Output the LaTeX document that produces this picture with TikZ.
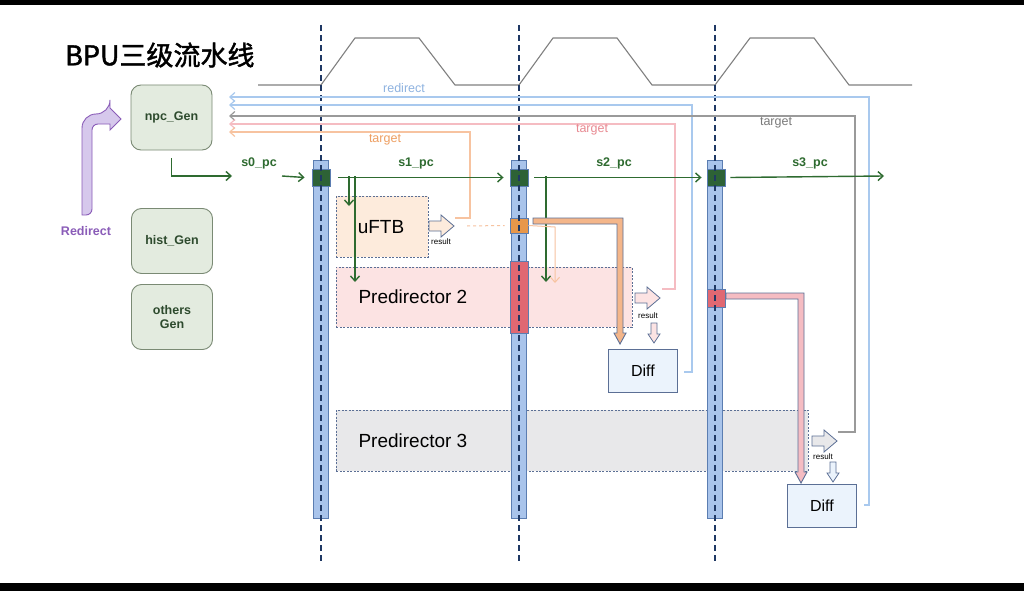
\documentclass[tikz,border=0pt]{standalone}
\usepackage{fontspec}
\setmainfont{Liberation Sans}
\newfontfamily\cjk[FakeBold=1.6]{Noto Sans CJK SC}
\usetikzlibrary{arrows.meta,calc}
\definecolor{navy}{HTML}{1F3864}
\definecolor{regblue}{HTML}{A9C4EB}
\definecolor{regedge}{HTML}{5B7DB1}
\definecolor{pcgreen}{HTML}{2E6B30}
\definecolor{gentext}{HTML}{2D4A2D}
\definecolor{gengreen}{HTML}{E3EBDF}
\definecolor{genedge}{HTML}{7A8A74}
\definecolor{fbblue}{HTML}{A9C9EE}
\definecolor{fbgray}{HTML}{9A9A9A}
\definecolor{fbpink}{HTML}{F5BCC2}
\definecolor{fborange}{HTML}{F7C3A0}
\definecolor{bigorange}{HTML}{F4B68A}
\definecolor{lblblue}{HTML}{8FB3E0}
\definecolor{lblpink}{HTML}{E88A92}
\definecolor{lblorange}{HTML}{EE9F62}
\definecolor{lblgray}{HTML}{7A7A7A}
\definecolor{uftbfill}{HTML}{FDEBDC}
\definecolor{ptwofill}{HTML}{FCE3E3}
\definecolor{pthreefill}{HTML}{E8E8EA}
\definecolor{difffill}{HTML}{EBF3FC}
\definecolor{diffedge}{HTML}{5B6F95}
\definecolor{regorange}{HTML}{E8974A}
\definecolor{regred}{HTML}{E06872}
\definecolor{regdgreen}{HTML}{2D6236}
\definecolor{redir}{HTML}{8A5CB8}
\definecolor{redirfill}{HTML}{D6C8EC}
\definecolor{clkgray}{HTML}{808080}
\newcommand\myRArrow[3]{%
  \draw[diffedge, fill=#3, line width=0.8] (#1,#2-5) -- (#1+12,#2-5) -- (#1+12,#2-11) -- (#1+25,#2) -- (#1+12,#2+11) -- (#1+12,#2+5) -- (#1,#2+5) -- cycle;}
\newcommand\myDArrow[3]{%
  \draw[diffedge, fill=#3, line width=0.8] (#1-3,#2) -- (#1+3,#2) -- (#1+3,#2+11) -- (#1+6,#2+11) -- (#1,#2+20) -- (#1-6,#2+11) -- (#1-3,#2+11) -- cycle;}
\tikzset{
  genbox/.style={draw=genedge, fill=gengreen, rounded corners=10, line width=0.9, minimum width=81, minimum height=65, text=gentext, font=\bfseries\fontsize{12.5}{15}\selectfont, align=center},
  predbox/.style={draw=diffedge, dash pattern=on 2pt off 1.5pt, line width=0.8},
  diffbox/.style={draw=diffedge, fill=difffill, line width=0.9, font=\fontsize{16}{18}\selectfont},
  regbar/.style={draw=regedge, fill=regblue, line width=0.9, minimum width=15, minimum height=358},
  regsq/.style={draw=regedge, line width=0.9, minimum width=18},
  stageline/.style={navy, line width=1.8, dash pattern=on 6pt off 4pt},
  fbline/.style={line width=1.2, -{Straight Barb[length=5pt,width=9pt]}},
  pcarrow/.style={pcgreen, line width=1.4, -{Straight Barb[length=5pt,width=9pt]}},
  pclabel/.style={text=pcgreen, font=\bfseries\fontsize{12.5}{14}\selectfont},
  fblabel/.style={font=\fontsize{12.5}{14}\selectfont},
  reslabel/.style={font=\fontsize{8}{9}\selectfont},
  bigarrow/.style={draw=diffedge, line width=0.9}
}
\begin{document}
\begin{tikzpicture}[x=1pt,y=-1pt]
\useasboundingbox (0,0) rectangle (1024,591);
\fill[white] (0,0) rectangle (1024,591);
\fill[black] (0,0) rectangle (1024,5);
\fill[black] (0,583) rectangle (1024,591);

% title
\node[font=\cjk\fontsize{27}{30}\selectfont, anchor=west, inner sep=0] (title) at (65,55) {BPU三级流水线};

% clock
\draw[clkgray, line width=1.1] (258,85) -- (321,85) -- (355,38) -- (419,38) -- (455,85) -- (519,85) -- (553,38) -- (617,38) -- (652,85) -- (715,85) -- (750,38) -- (814,38) -- (849,85) -- (912,85);

% generators
\node[genbox] (npc) at (171.5,117.5) {npc\_Gen};
\node[genbox] (hist) at (172,241) {hist\_Gen};
\node[genbox] (others) at (172,317) {others\\[-1pt]Gen};

% redirect arrow
\draw[redir, fill=redirfill, line width=0.9] (82,215) {[rounded corners=14pt] -- (82,114) -- (110,114)} -- (110,108) -- (121,119) -- (110,130) -- (110,124) {[rounded corners=6pt] -- (92,124) -- (92,215)} -- cycle;
\node[text=redir, font=\bfseries\fontsize{12.5}{14}\selectfont] (redirlbl) at (86,231) {Redirect};

% predictor boxes
\node[predbox, fill=uftbfill, minimum width=92, minimum height=61, anchor=north west] (uftb) at (336,196) {};
\node[font=\fontsize{19}{21}\selectfont] (uftbtxt) at (381,227) {uFTB};
\node[predbox, fill=ptwofill, minimum width=296, minimum height=60, anchor=north west] (ptwo) at (336,267) {};
\node[font=\fontsize{19}{21}\selectfont, anchor=west] (ptwotxt) at (355,297) {Predirector 2};
\node[predbox, fill=pthreefill, minimum width=472, minimum height=61, anchor=north west] (pthree) at (336,410) {};
\node[font=\fontsize{19}{21}\selectfont, anchor=west] (pthreetxt) at (355,441) {Predirector 3};

% diff boxes
\node[diffbox, minimum width=69, minimum height=43, anchor=north west] (diffa) at (608,349) {Diff};
\node[diffbox, minimum width=69, minimum height=43, anchor=north west] (diffb) at (787,484) {Diff};

% register bars
\node[regbar] (bara) at (321,339) {};
\node[regbar] (barb) at (519,339) {};
\node[regbar] (barc) at (715,339) {};
\node[regsq, fill=regdgreen, minimum height=17] (ga) at (321,177.5) {};
\node[regsq, fill=regdgreen, minimum height=17] (gb) at (519,177.5) {};
\node[regsq, fill=regdgreen, minimum height=17] (gc) at (716,177.5) {};
\node[regsq, fill=regorange, minimum height=15] (ob) at (519,225.5) {};
\node[regsq, fill=regred, minimum height=72] (rb) at (519,297) {};
\node[regsq, fill=regred, minimum height=18] (rc) at (716,298) {};

% stage dashed lines
\draw[stageline] (321,25) -- (321,562);
\draw[stageline] (519,25) -- (519,562);
\draw[stageline] (715,25) -- (715,562);

% feedback lines
\coordinate (fbA) at (864,505);
\coordinate (fbB) at (684,372);
\coordinate (fbC) at (838,432);
\coordinate (fbD) at (662,289);
\coordinate (fbE) at (455,218);
\draw[fbline, fbblue] (fbA) -- (869,505) -- (869,97) -- (229,97);
\draw[fbline, fbblue] (fbB) -- (692,372) -- (692,105) -- (229,105);
\draw[fbline, fbgray] (fbC) -- (855,432) -- (855,116) -- (229,116);
\draw[fbline, fbpink] (fbD) -- (675,289) -- (675,124) -- (229,124);
\draw[fbline, fborange] (fbE) -- (470,218) -- (470,132) -- (229,132);
\node[fblabel, text=lblblue] (lredir) at (404,88) {redirect};
\node[fblabel, text=lblorange] (ltgta) at (385,140) {target};
\node[fblabel, text=lblpink] (ltgtb) at (592,130) {target};
\node[fblabel, text=lblgray] (ltgtc) at (776,123) {target};

% pc arrows
\draw[pcarrow] ($(npc.south)+(0,8)$) |- (232,176);
\node[pclabel] (lsa) at (259,163) {s0\_pc};
\draw[pcarrow] (282,176) -- ($(ga.west)+(-7,0)$);
\draw[pcarrow] ($(ga.east)+(8,0)$) -- ($(gb.west)+(-6,0)$);
\node[pclabel] (lsb) at (416,163) {s1\_pc};
\draw[pcarrow] (349,176) -- (349,206);
\draw[pcarrow] (355,176) -- (355,282);
\draw[pcarrow] ($(gb.east)+(6,0)$) -- ($(gc.west)+(-5,0)$);
\node[pclabel] (lsc) at (614,163) {s2\_pc};
\draw[pcarrow] (546,176) -- (546,282);
\draw[pcarrow] ($(gc.east)+(5,0)$) -- (884,176);
\node[pclabel] (lsd) at (810,163) {s3\_pc};

% uFTB result
\draw[fborange, line width=1, dashed] (467,226) -- ($(ob.west)+(-5,0)$);
\draw[fborange, line width=1, -{Straight Barb[length=5pt,width=9pt]}] (ob.east) -- (555,227) -- (555,283);
\myRArrow{429}{226}{uftbfill}
\node[reslabel] (resa) at (441,242) {result};

% P2 result
\myRArrow{635}{298}{ptwofill}
\node[reslabel] (resb) at (648,316) {result};
\myDArrow{654}{323}{ptwofill}

% P3 result
\myRArrow{812}{441}{pthreefill}
\node[reslabel] (resc) at (823,457) {result};
\myDArrow{833}{462}{difffill}

% big bent arrows
\draw[bigarrow, fill=bigorange] (533,218) -- (623,218) -- (623,333) -- (626,333) -- (620,344) -- (614,333) -- (617,333) -- (617,224) -- (533,224) -- cycle;
\draw[bigarrow, fill=fbpink] (726,293) -- (804,293) -- (804,472) -- (807,472) -- (801,483) -- (795,472) -- (798,472) -- (798,299) -- (726,299) -- cycle;
\end{tikzpicture}
\end{document}
